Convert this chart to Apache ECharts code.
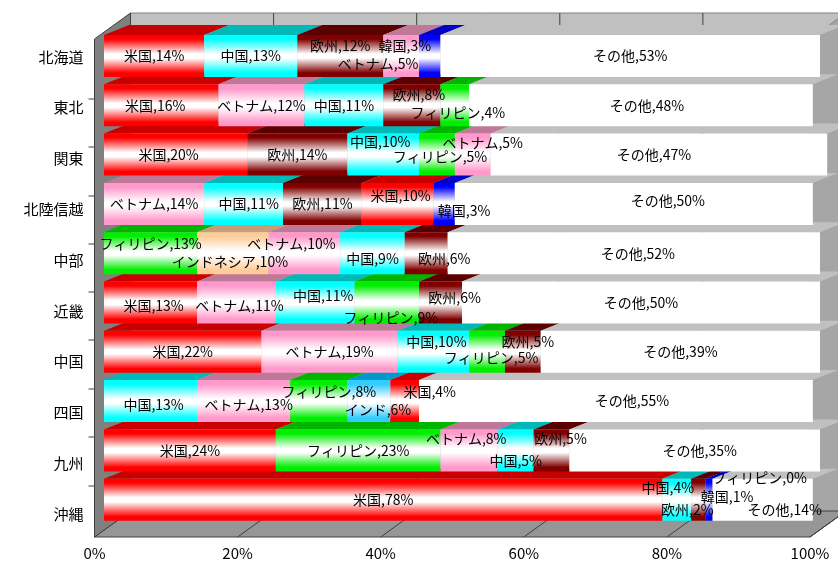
<!DOCTYPE html>
<html>
<head>
<meta charset="utf-8">
<script src="https://cdn.jsdelivr.net/npm/echarts@6/dist/echarts.min.js"></script>
<style>
  html, body { margin: 0; padding: 0; background: #ffffff; }
  #chart { width: 838px; height: 563px; }
</style>
</head>
<body>
<div id="chart"></div>
<script>
// Regions (top to bottom)
const regions = ['北海道', '東北', '関東', '北陸信越', '中部', '近畿', '中国', '四国', '九州', '沖縄'];

// Share of each origin (%), one entry per region; null = not among that region's top five
const usShare          = [14, 16, 20, 10, null, 13, 22, 4, 24, 78];
const chinaShare       = [13, 11, 10, 11, 9, 11, 10, 13, 5, 4];
const europeShare      = [12, 8, 14, 11, 6, 6, 5, null, 5, 2];
const vietnamShare     = [5, 12, 5, 14, 10, 11, 19, 13, 8, null];
const koreaShare       = [3, null, null, 3, null, null, null, null, null, 1];
const philippinesShare = [null, 4, 5, null, 13, 9, 5, 8, 23, 0];
const indonesiaShare   = [null, null, null, null, 10, null, null, null, null, null];
const indiaShare       = [null, null, null, null, null, null, null, 6, null, null];
const otherShare       = [53, 48, 47, 50, 52, 50, 39, 55, 35, 14];

const countries = ['米国', '中国', '欧州', 'ベトナム', '韓国', 'フィリピン', 'インドネシア', 'インド', 'その他'];
const shares = {
  '米国': usShare, '中国': chinaShare, '欧州': europeShare, 'ベトナム': vietnamShare,
  '韓国': koreaShare, 'フィリピン': philippinesShare, 'インドネシア': indonesiaShare,
  'インド': indiaShare, 'その他': otherShare
};

// Left-to-right stacking order within each region
const stackOrder = [
  ['米国', '中国', '欧州', 'ベトナム', '韓国', 'その他'],
  ['米国', 'ベトナム', '中国', '欧州', 'フィリピン', 'その他'],
  ['米国', '欧州', '中国', 'フィリピン', 'ベトナム', 'その他'],
  ['ベトナム', '中国', '欧州', '米国', '韓国', 'その他'],
  ['フィリピン', 'インドネシア', 'ベトナム', '中国', '欧州', 'その他'],
  ['米国', 'ベトナム', '中国', 'フィリピン', '欧州', 'その他'],
  ['米国', 'ベトナム', '中国', 'フィリピン', '欧州', 'その他'],
  ['中国', 'ベトナム', 'フィリピン', 'インド', '米国', 'その他'],
  ['米国', 'フィリピン', 'ベトナム', '中国', '欧州', 'その他'],
  ['米国', '中国', '欧州', '韓国', 'フィリピン', 'その他']
];

// ---- presentation ----
// front-face base colour, top-face colour
const palette = {
  '米国': ['#ff0000', '#c80000'],
  '中国': ['#00ffff', '#00b8b8'],
  '欧州': ['#800000', '#5a0000'],
  'ベトナム': ['#ff99cc', '#c07898'],
  '韓国': ['#0000ff', '#0000c8'],
  'フィリピン': ['#00ee00', '#00b400'],
  'インドネシア': ['#ffcc99', '#c89e78'],
  'インド': ['#33ccff', '#0099cc'],
  'その他': ['#ffffff', '#c0c0c0']
};

// label nudges [dx, dy] (px) so that neighbouring small segments do not collide
const labelNudge = [
  { '欧州': [0, -10], 'ベトナム': [-23, 8], '韓国': [-25, -10] },
  { '米国': [-6, 0], '欧州': [7, -11], 'フィリピン': [3, 7], 'その他': [6, 0] },
  { '米国': [-7, 0], '中国': [-3, -13], 'フィリピン': [3, 2], 'ベトナム': [10, -12], 'その他': [-5, 0] },
  { '中国': [5, 0], '米国': [3, -8], '韓国': [20, 7], 'その他': [34, -3] },
  { 'フィリピン': [0, -10], 'インドネシア': [-3, 8], 'ベトナム': [-13, -10], '中国': [0, 5], '欧州': [18, 5], 'その他': [4, 0] },
  { '米国': [3, 3], 'ベトナム': [3, 3], '中国': [8, -7], 'フィリピン': [4, 15], '欧州': [14, -5] },
  { '中国': [3, -10], 'フィリピン': [4, 6], '欧州': [5, -10] },
  { '中国': [3, 4], 'ベトナム': [5, 4], 'フィリピン': [10, -9], 'インド': [9, 9], '米国': [25, -9], 'その他': [16, 0] },
  { 'ベトナム': [-3, -12], '中国': [0, 10], '欧州': [9, -12], 'その他': [5, 0] },
  { '中国': [-9, -12], '欧州': [-11, 10], '韓国': [18, -3], 'フィリピン': [47, -22], 'その他': [22, 10] }
];

const FONT = '"Noto Sans CJK JP", "Noto Sans", sans-serif';
const FACE_H = 42;   // height of a bar's front face
const TOP_DX = 25;   // depth offset of a bar's top face
const TOP_DY = 10;

// Segments: [start, end, regionIndex, countryIndex, value]; lower rows first so upper rows overlap them
const segments = [];
for (let r = regions.length - 1; r >= 0; r--) {
  let start = 0;
  stackOrder[r].forEach(function (name) {
    const v = shares[name][r];
    segments.push([start, start + v, r, countries.indexOf(name), v]);
    start += v;
  });
}

function frontFill(name) {
  const base = palette[name][0];
  if (name === 'その他') return '#ffffff';
  return new echarts.graphic.LinearGradient(0, 0, 0, 1, [
    { offset: 0, color: base },
    { offset: 0.1, color: base },
    { offset: 0.45, color: '#ffffff' },
    { offset: 0.55, color: '#ffffff' },
    { offset: 0.9, color: base },
    { offset: 1, color: base }
  ]);
}

function renderBar(params, api) {
  const r = api.value(2);
  const name = countries[api.value(3)];
  const s = api.coord([api.value(0), r]);
  const e = api.coord([api.value(1), r]);
  const y0 = s[1] - FACE_H / 2;
  return {
    type: 'group',
    children: [
      {
        type: 'polygon',
        shape: { points: [[s[0], y0], [e[0], y0], [e[0] + TOP_DX, y0 - TOP_DY], [s[0] + TOP_DX, y0 - TOP_DY]] },
        style: { fill: palette[name][1] }
      },
      {
        type: 'rect',
        shape: { x: s[0], y: y0, width: e[0] - s[0], height: FACE_H },
        style: { fill: frontFill(name) }
      }
    ]
  };
}

function renderLabel(params, api) {
  const r = api.value(2);
  const name = countries[api.value(3)];
  const s = api.coord([api.value(0), r]);
  const e = api.coord([api.value(1), r]);
  const n = (labelNudge[r] && labelNudge[r][name]) || [0, 0];
  return {
    type: 'text',
    x: (s[0] + e[0]) / 2 + n[0],
    y: s[1] + n[1],
    style: {
      text: name + ',' + api.value(4) + '%',
      align: 'center',
      verticalAlign: 'middle',
      fill: '#000000',
      font: '14px ' + FONT
    }
  };
}

// ---- 3D frame (walls and floor) ----
const FL = 94.5, FR = 810, FT = 39, FB = 537;   // front plane
const DX = 36, DY = 26;                          // full depth offset
const BL = FL + DX, BR = FR + DX, BT = FT - DY, BB = FB - DY;
const STEP = (FR - FL) / 5;
const frame = [];
frame.push({ type: 'rect', shape: { x: BL, y: BT, width: BR - BL, height: BB - BT }, style: { fill: '#c0c0c0', stroke: '#808080', lineWidth: 1 } });
for (let k = 1; k < 5; k++) {
  frame.push({ type: 'line', shape: { x1: BL + STEP * k, y1: BT, x2: BL + STEP * k, y2: BB }, style: { stroke: '#404040', lineWidth: 1 } });
}
frame.push({ type: 'polygon', shape: { points: [[FR, FT], [BR, BT], [BR, BB], [FR, FB]] }, style: { fill: '#a6a6a6', stroke: '#808080', lineWidth: 1 } });
frame.push({ type: 'polygon', shape: { points: [[FL, FB], [BL, BB], [BR, BB], [FR, FB]] }, style: { fill: '#969696', stroke: '#404040', lineWidth: 1 } });
for (let k = 1; k <= 5; k++) {
  frame.push({ type: 'line', shape: { x1: FL + STEP * k, y1: FB, x2: BL + STEP * k, y2: BB }, style: { stroke: '#404040', lineWidth: 1 } });
}
frame.push({ type: 'polygon', shape: { points: [[FL, FT], [BL, BT], [BL, BB], [FL, FB]] }, style: { fill: '#808080', stroke: '#404040', lineWidth: 1 } });
const wallTicks = [99, 147, 196, 244, 292, 340, 389, 437, 486];
wallTicks.forEach(function (y) {
  frame.push({ type: 'line', shape: { x1: FL - 6, y1: y, x2: FL, y2: y }, style: { stroke: '#404040', lineWidth: 1 } });
});

const chart = echarts.init(document.getElementById('chart'), null, { renderer: 'canvas' });
chart.setOption({
  animation: false,
  backgroundColor: '#ffffff',
  graphic: { elements: frame.map(function (el) { return Object.assign({ z: 0, silent: true }, el); }) },
  grid: [
    { left: 104, right: 18, top: 31.35, height: 493 },
    { left: FL, right: 838 - FR, top: 31.6, bottom: 23.6 }
  ],
  xAxis: [
    { gridIndex: 0, type: 'value', min: 0, max: 100, show: false },
    {
      gridIndex: 1, type: 'value', min: 0, max: 100, interval: 20,
      axisLine: { show: false }, axisTick: { show: false }, splitLine: { show: false },
      axisLabel: { formatter: '{value}%', color: '#000000', fontSize: 15, fontFamily: FONT, margin: 6 }
    }
  ],
  yAxis: [
    { gridIndex: 0, type: 'category', data: regions, inverse: true, show: false },
    {
      gridIndex: 1, type: 'category', data: regions, inverse: true,
      axisLine: { show: false }, axisTick: { show: false }, splitLine: { show: false },
      axisLabel: { color: '#000000', fontSize: 15, fontFamily: FONT, margin: 11 }
    }
  ],
  series: [
    {
      type: 'custom', name: 'bars', xAxisIndex: 0, yAxisIndex: 0, z: 5,
      renderItem: renderBar, data: segments, encode: { x: [0, 1], y: 2 }, clip: false
    },
    {
      type: 'custom', name: 'labels', xAxisIndex: 0, yAxisIndex: 0, z: 10,
      renderItem: renderLabel, data: segments, encode: { x: [0, 1], y: 2 }, clip: false
    }
  ]
});
</script>
</body>
</html>
